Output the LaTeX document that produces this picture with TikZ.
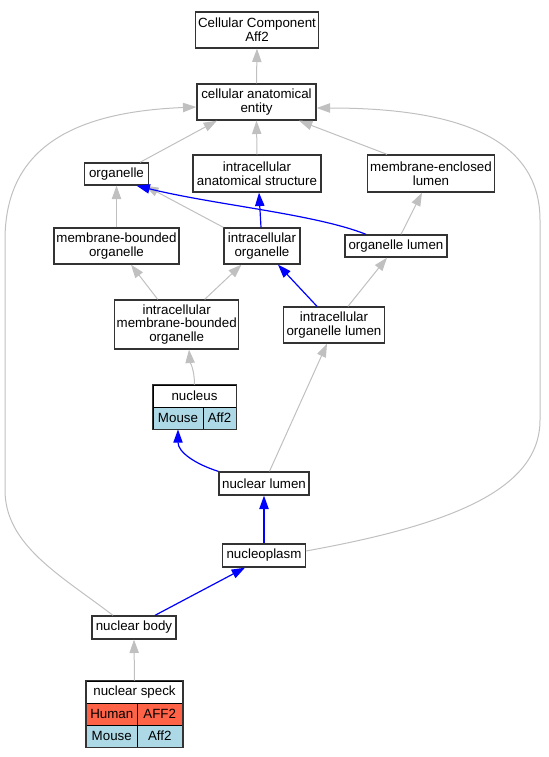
\documentclass[tikz,border=0pt]{standalone}
\usepackage{fontspec}
\setmainfont{Liberation Sans}
\usetikzlibrary{arrows.meta}
\definecolor{edgegray}{HTML}{C0C0C0}
\definecolor{boxborder}{HTML}{333333}
\definecolor{human}{HTML}{FF6347}
\definecolor{mouse}{HTML}{ADD8E6}
\begin{document}
\begin{tikzpicture}[x=0.75pt,y=-0.75pt,
  every node/.style={font=\fontsize{10}{10.3}\selectfont, inner sep=0pt, align=center},
  box/.style={draw=boxborder, line width=1pt, fill=white, rectangle},
  cell/.style={draw=black, line width=0.6pt, rectangle},
  outline/.style={draw=boxborder, line width=1pt},
  isa/.style={edgegray, line width=0.75pt, -{Triangle[length=10pt,width=7pt]}},
  part/.style={blue, line width=0.9pt, -{Triangle[length=10pt,width=7pt]}}]
\useasboundingbox (0,0) rectangle (549,757);

% ordinary nodes
\node[box, minimum width=92.25pt, minimum height=27pt] (cc) at (257,30) {Cellular Component\\Aff2};
\node[box, minimum width=89.25pt, minimum height=27pt] (cae) at (256.5,102) {cellular anatomical\\entity};
\node[box, minimum width=48pt, minimum height=16.5pt] (org) at (116.5,174) {organelle};
\node[box, minimum width=96pt, minimum height=27.75pt] (ias) at (257,173.5) {intracellular\\anatomical structure};
\node[box, minimum width=95.25pt, minimum height=27.75pt] (mel) at (431,173.5) {membrane-enclosed\\lumen};
\node[box, minimum width=93.75pt, minimum height=27pt] (mbo) at (116.5,246) {membrane-bounded\\organelle};
\node[box, minimum width=57pt, minimum height=27pt] (io) at (262,246) {intracellular\\organelle};
\node[box, minimum width=76.5pt, minimum height=16.5pt] (ol) at (396,246) {organelle lumen};
\node[box, minimum width=93pt, minimum height=36.75pt] (imbo) at (176.7,324.5) {intracellular\\membrane-bounded\\organelle};
\node[box, minimum width=76.1pt, minimum height=27pt] (iol) at (334,325) {intracellular\\organelle lumen};
\node[box, minimum width=67.5pt, minimum height=17.25pt] (nl) at (264,483.5) {nuclear lumen};
\node[box, minimum width=61.9pt, minimum height=17.25pt] (np) at (264,555.5) {nucleoplasm};
\node[box, minimum width=63pt, minimum height=17.25pt] (nb) at (134,627.5) {nuclear body};

% nucleus table
\node[cell, fill=white, minimum width=62.25pt, minimum height=16.5pt] (nuch) at (194.5,396) {nucleus};
\node[cell, fill=mouse, minimum width=37.5pt, minimum height=16.5pt] (nucm) at (178,418) {Mouse};
\node[cell, fill=mouse, minimum width=24.75pt, minimum height=16.5pt] (nuca) at (219.5,418) {Aff2};
\draw[outline] (nuch.north west) rectangle (nuca.south east);

% nuclear speck table
\node[cell, fill=white, minimum width=72pt, minimum height=16.5pt] (nsh) at (134.5,692) {nuclear speck};
\node[cell, fill=human, minimum width=37.9pt, minimum height=16.5pt] (nshm) at (111.75,714) {Human};
\node[cell, fill=human, minimum width=34.1pt, minimum height=16.5pt] (nsha) at (159.75,714) {AFF2};
\node[cell, fill=mouse, minimum width=37.9pt, minimum height=16.5pt] (nsmm) at (111.75,736) {Mouse};
\node[cell, fill=mouse, minimum width=34.1pt, minimum height=16.5pt] (nsma) at (159.75,736) {Aff2};
\draw[outline] (nsh.north west) rectangle (nsma.south east);

% is_a edges (gray)
\draw[isa] (cae.north) -- (cc.south);
\draw[isa] ([shift={(23.5,0)}]org.north) -- ([shift={(-39.5,0)}]cae.south);
\draw[isa] (ias.north) -- (cae.south);
\draw[isa] ([shift={(-44,0)}]mel.north) -- ([shift={(42.5,0)}]cae.south);
\draw[isa] (mbo.north) -- (org.south);
\draw[isa] (io.north west) -- ([shift={(-4,0)}]org.south east);
\draw[isa] ([shift={(5,0)}]ol.north) -- ([shift={(-9,0)}]mel.south);
\draw[isa] ([shift={(-19,0)}]imbo.north) -- ([shift={(14.5,0)}]mbo.south);
\draw[isa] ([shift={(28,0)}]imbo.north) -- ([shift={(-20.5,0)}]io.south);
\draw[isa] ([shift={(14,0)}]iol.north) -- ([shift={(-9,0)}]ol.south);
\draw[isa] (nuch.north) .. controls +(0,-15) and +(1,12) .. ([shift={(12.3,0)}]imbo.south);
\draw[isa] ([shift={(5.5,0)}]nl.north) -- ([shift={(-7,0)}]iol.south);
\draw[isa] (nsh.north) -- (nb.south);
\draw[isa] ([shift={(0,-4.5)}]np.east) .. controls (450,525) and (540,490) .. (540,420)
  -- (540,220) .. controls (540,130) and (440,108) .. ([shift={(0,6)}]cae.east);
\draw[isa] ([shift={(-21,0)}]nb.north) .. controls (60,575) and (5,545) .. (5,490)
  -- (5,240) .. controls (5,150) and (70,112) .. ([shift={(0,5)}]cae.west);

% part_of edges (blue)
\draw[part] ([shift={(-1,0)}]io.north) -- ([shift={(2,0)}]ias.south);
\draw[part] ([shift={(-30,0)}]ol.north) .. controls (315,214) and (215,205) .. ([shift={(20,0)}]org.south);
\draw[part] ([shift={(-17,0)}]iol.north) -- ([shift={(16,0)}]io.south);
\draw[part] (nl.north west) .. controls (195,464) and (178,452) .. (nucm.south);
\draw[part] (np.north) -- (nl.south);
\draw[part] ([shift={(21,0)}]nb.north) -- ([shift={(-19,0)}]np.south);
\end{tikzpicture}
\end{document}
